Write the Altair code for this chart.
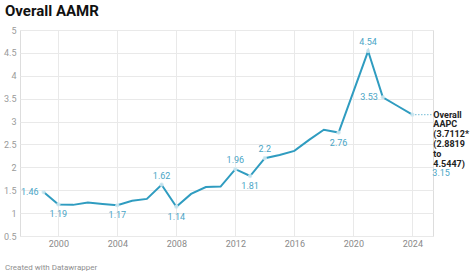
import altair as alt
import pandas as pd

# Annual AAMR series
years = [1999, 2000, 2001, 2002, 2003, 2004, 2005, 2006, 2007, 2008, 2009, 2010,
         2011, 2012, 2013, 2014, 2015, 2016, 2017, 2018, 2019, 2020, 2021, 2022,
         2023, 2024]
aamr = [1.46, 1.19, 1.18, 1.23, 1.20, 1.17, 1.27, 1.31, 1.62, 1.14, 1.42, 1.57,
        1.58, 1.96, 1.81, 2.20, 2.27, 2.36, 2.60, 2.82, 2.76, 3.65, 4.54, 3.53,
        3.34, 3.15]

# Labelled points and where their label sits relative to the point
label_years = [1999, 2000, 2004, 2007, 2008, 2012, 2013, 2014, 2019, 2021, 2022, 2024]
label_pos = ["left", "below", "below", "above", "below", "above", "below", "above",
             "below", "above", "left", "end"]

x_ticks = list(range(2000, 2025, 2))
y_domain = [0.5, 5.0]
y_tick_count = 10  # one gridline every 0.5

annotation = "Overall\nAAPC\n(3.7112*\n(2.8819\nto\n4.5447)"
footer = "Created with Datawrapper"

LINE = "#2f9cc0"
LABEL = "#4aa5c6"
FONT = "Roboto"

df = pd.DataFrame({"year": years, "aamr": aamr})
value_of = dict(zip(years, aamr))
lab = pd.DataFrame({
    "year": label_years,
    "aamr": [value_of[y] for y in label_years],
    "pos": label_pos,
})
lab["text"] = lab["aamr"].map(lambda v: f"{v:g}")
end = pd.DataFrame({"year": [2024], "x2": [2025.3], "aamr": [3.15], "note": [annotation]})

x = alt.X("year:Q", scale=alt.Scale(domain=[1997.4, 2025.4], nice=False, zero=False),
          axis=alt.Axis(values=x_ticks, format="d", title=None, ticks=False, domain=False,
                        labelColor="#8a8a8a", labelFontSize=9, labelFont=FONT,
                        labelPadding=3, gridColor="#e9e9e9", gridWidth=1))
y = alt.Y("aamr:Q", scale=alt.Scale(domain=y_domain, nice=False, zero=False),
          axis=alt.Axis(tickCount=y_tick_count, title=None, ticks=False, domain=False,
                        labelExpr="replace(format(datum.value, '.1f'), '.0', '')",
                        labelOverlap=False,
                        labelColor="#9a9a9a", labelFontSize=9, labelFont=FONT,
                        labelPadding=4, gridColor="#e9e9e9", gridWidth=1))

base = alt.Chart(df)
line = base.mark_line(color=LINE, strokeWidth=2).encode(x=x, y=y)

pts = alt.Chart(lab).mark_point(filled=True, size=18, color="#cde7f0", opacity=0.9).encode(
    x="year:Q", y="aamr:Q")

def labels(pos, **kw):
    return alt.Chart(lab).transform_filter(alt.datum.pos == pos).mark_text(
        color=LABEL, fontSize=9, font=FONT, **kw).encode(x="year:Q", y="aamr:Q", text="text:N")

above = labels("above", dy=-9, baseline="middle")
below = labels("below", dy=10, baseline="middle")
left = labels("left", dx=-5, align="right", baseline="middle")
endlab = labels("end", dx=20, dy=58, align="left", baseline="middle")

connector = alt.Chart(end).mark_rule(color=LINE, strokeDash=[1, 2], strokeWidth=1).encode(
    x="year:Q", x2="x2:Q", y="aamr:Q")
note = alt.Chart(end).mark_text(
    align="left", baseline="middle", dx=21, dy=0, lineBreak="\n", lineHeight=9.8,
    fontSize=9, fontWeight="bold", font=FONT, color="#222222").encode(
    x="year:Q", y="aamr:Q", text="note:N")

foot = alt.Chart(end).mark_text(
    align="left", baseline="middle", fontSize=8, font=FONT, color="#8f8f8f").encode(
    x=alt.value(-15), y=alt.value(238), text=alt.value(footer))

chart = alt.layer(line, connector, pts, above, below, left, endlab, note, foot).properties(
    width=413, height=206,
    padding={"left": 20, "top": 30, "right": 37, "bottom": 41},
    autosize=alt.AutoSizeParams(type="none"),
    title=alt.TitleParams("Overall AAMR", anchor="start", frame="group", dx=-15, offset=7,
                          fontSize=15, fontWeight="bold", font=FONT, color="#111111"),
).configure_view(stroke=None).configure(background="white")

chart.save("out.html", embed_options={"renderer": "svg", "actions": False})
